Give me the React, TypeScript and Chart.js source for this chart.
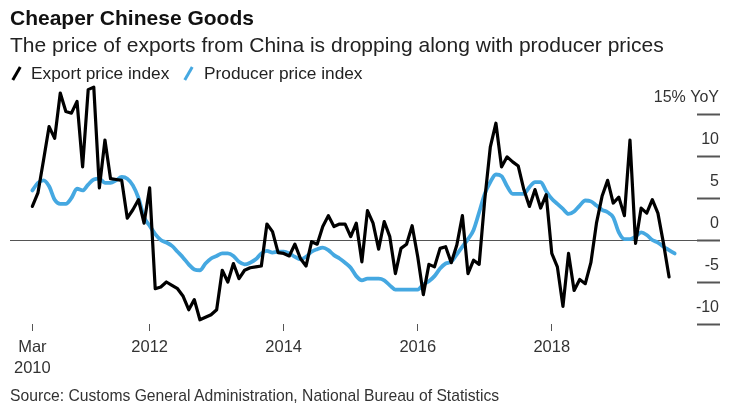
import React, { useEffect, useRef } from "react";
import { Chart, registerables } from "chart.js";

Chart.register(...registerables);

const FONT = "'Liberation Sans', Arial, sans-serif";
const BLUE = "#45a8e1";

const TITLE = "Cheaper Chinese Goods";
const SUBTITLE = "The price of exports from China is dropping along with producer prices";
const SOURCE = "Source: Customs General Administration, National Bureau of Statistics";
const SERIES_NAMES = ["Export price index", "Producer price index"];

// x = months since Jan 2010 (month-end position); first observation is Mar 2010
const FIRST_MONTH = 3;

// Export price index, % YoY, Mar 2010 .. Sep 2019
const exportPriceIndex = [
  4.0, 5.6, 9.5, 13.5, 12.1, 17.5, 15.3, 15.1, 16.5, 8.7,
  17.9, 18.2, 6.2, 11.9, 7.3, 7.2, 7.1, 2.6, 3.6, 4.8, 2.0, 6.2,
  -5.8, -5.6, -5.0, -5.4, -5.8, -6.7, -8.3, -7.1, -9.5, -9.2, -8.9, -8.3,
  -3.6, -5.0, -2.8, -4.6, -3.6, -3.3, -3.2, -3.1, 1.9, 1.0, -1.5, -1.6,
  -1.9, -0.5, -2.2, -3.1, -0.2, -0.5, 1.6, 2.9, 1.6, 1.9, 1.9, 0.4,
  2.0, -2.6, 3.5, 2.0, -1.1, 2.2, 0.4, -4.0, -1.0, -0.5, 1.7, -2.0,
  -6.5, -2.9, -3.2, -1.0, -0.8, -2.7, -0.6, 2.9, -4.0, -2.4, -2.9, 4.8,
  11.1, 13.9, 8.7, 9.9, 9.3, 8.8, 6.0, 4.0, 6.0, 3.8, 5.4, -1.6,
  -3.2, -7.9, -1.6, -6.0, -4.7, -5.2, -2.7, 2.0, 5.2, 7.1, 4.4, 5.1,
  2.9, 11.9, -0.4, 3.8, 3.2, 4.8, 3.2, -0.4, -4.4,
];

// Producer price index, % YoY, Mar 2010 .. Oct 2019
const producerPriceIndex = [
  5.9, 6.8, 7.1, 6.4, 4.8, 4.3, 4.3, 5.0, 6.1, 5.9,
  6.6, 7.2, 7.3, 6.8, 6.8, 7.1, 7.5, 7.3, 6.5, 5.0, 2.7, 1.7,
  0.7, 0.0, -0.3, -0.7, -1.4, -2.1, -2.9, -3.5, -3.6, -2.8, -2.2, -1.9,
  -1.6, -1.6, -1.9, -2.6, -2.9, -2.7, -2.3, -1.6, -1.3, -1.5, -1.4, -1.4,
  -1.6, -2.0, -2.3, -2.0, -1.4, -1.1, -0.9, -1.2, -1.8, -2.2, -2.7, -3.3,
  -4.3, -4.8, -4.6, -4.6, -4.6, -4.8, -5.4, -5.9, -5.9, -5.9, -5.9, -5.9,
  -5.3, -4.9, -4.3, -3.4, -2.8, -2.6, -1.7, -0.8, 0.1, 1.2, 3.3, 5.5,
  6.9, 7.8, 7.6, 6.4, 5.5, 5.5, 5.5, 6.3, 6.9, 6.9, 5.8, 4.9,
  4.3, 3.7, 3.1, 3.4, 4.1, 4.7, 4.6, 4.1, 3.6, 3.3, 2.7, 0.9,
  0.1, 0.1, 0.4, 0.9, 0.6, 0.0, -0.3, -0.8, -1.2, -1.6,
];

const yTicks = [-10, -5, 0, 5, 10, 15];
const yTickLabels = ["-10", "-5", "0", "5", "10", "15% YoY"];
const xTicks = [3, 24, 48, 72, 96];
const xTickLabels: (string | string[])[] = [["Mar", "2010"], "2012", "2014", "2016", "2018"];

const Y_MIN = -10;
const Y_MAX = 18.5;
const X_MIN = -1;
const X_MAX = 122;

const yLabel = (v: number) => {
  const i = yTicks.indexOf(v);
  return i >= 0 ? yTickLabels[i] : "";
};

export default function App() {
  const ref = useRef<HTMLCanvasElement | null>(null);

  useEffect(() => {
    const canvas = ref.current;
    if (!canvas) return;

    const Y_TICK_LEN = 23;
    const LABEL_SHIFT = 22; // label right edge relative to the axis' left edge

    const chart = new Chart(canvas, {
      type: "line",
      data: {
        datasets: [
          {
            label: SERIES_NAMES[0],
            data: exportPriceIndex.map((v, i) => ({ x: FIRST_MONTH + i, y: v })),
            borderColor: "#000000",
            borderWidth: 3.2,
            pointRadius: 0,
            tension: 0,
            borderJoinStyle: "round",
            borderCapStyle: "round",
          },
          {
            label: SERIES_NAMES[1],
            data: producerPriceIndex.map((v, i) => ({ x: FIRST_MONTH + i, y: v })),
            borderColor: BLUE,
            borderWidth: 3.8,
            pointRadius: 0,
            cubicInterpolationMode: "monotone",
            borderJoinStyle: "round",
            borderCapStyle: "round",
          },
        ],
      },
      options: {
        responsive: false,
        animation: false,
        devicePixelRatio: 1,
        layout: { padding: { left: 10, right: 22, top: 84.6, bottom: 0 } },
        plugins: {
          legend: { display: false },
          tooltip: { enabled: false },
          title: { display: false },
        },
        scales: {
          x: {
            type: "linear",
            min: X_MIN,
            max: X_MAX,
            border: { display: false },
            grid: {
              drawOnChartArea: false,
              drawTicks: true,
              tickLength: 7,
              tickColor: "#555",
              tickWidth: 1,
            },
            ticks: {
              autoSkip: false,
              maxRotation: 0,
              minRotation: 0,
              padding: 5.5,
              color: "#333",
              font: { family: FONT, size: 16.5, lineHeight: 21 / 16.5 },
              callback: (value: any) => {
                const i = xTicks.indexOf(Number(value));
                return i >= 0 ? xTickLabels[i] : "";
              },
            },
            afterBuildTicks: (s: any) => {
              s.ticks = xTicks.map((v) => ({ value: v }));
            },
            afterFit: (s: any) => {
              s.height = 83;
              s.paddingLeft = 0;
              s.paddingRight = 0;
            },
          },
          y: {
            type: "linear",
            position: "right",
            min: Y_MIN,
            max: Y_MAX,
            border: { display: false },
            grid: {
              drawOnChartArea: true,
              drawTicks: true,
              tickLength: Y_TICK_LEN,
              color: (ctx: any) =>
                ctx.tick && ctx.tick.value === 0 ? "#555" : "rgba(0,0,0,0)",
              lineWidth: 1,
              tickColor: "#555",
              tickWidth: 2,
            },
            ticks: {
              mirror: true,
              crossAlign: "near",
              padding: LABEL_SHIFT,
              labelOffset: -16,
              color: "#333",
              font: { family: FONT, size: 16 },
              callback: (value: any) => yLabel(Number(value)),
            },
            afterBuildTicks: (s: any) => {
              s.ticks = yTicks.map((v) => ({ value: v }));
            },
            afterFit: (s: any) => {
              s.width = Y_TICK_LEN;
              s.paddingTop = 0;
              s.paddingBottom = 0;
            },
          },
        },
      },
    } as any);

    // make sure mirrored labels end at axis.left + LABEL_SHIFT whatever the sign convention
    const ys: any = chart.scales.y;
    if (ys && typeof ys._getYAxisLabelAlignment === "function") {
      const res = ys._getYAxisLabelAlignment(Y_TICK_LEN);
      const target = ys.left + LABEL_SHIFT;
      if (res && Math.abs(res.x - target) > 1) {
        (chart.options as any).scales.y.ticks.padding = -LABEL_SHIFT;
        chart.update();
      }
    }

    return () => chart.destroy();
  }, []);

  const slash = (left: number, color: string) => (
    <div
      style={{
        position: "absolute",
        left,
        top: 66,
        width: 3,
        height: 15,
        background: color,
        transform: "rotate(30deg)",
      }}
    />
  );

  return (
    <div
      style={{
        position: "absolute",
        left: 0,
        top: 0,
        width: 742,
        height: 407,
        background: "#ffffff",
        fontFamily: FONT,
        overflow: "hidden",
      }}
    >
      <canvas
        ref={ref}
        width={742}
        height={407}
        style={{ position: "absolute", left: 0, top: 0, width: 742, height: 407 }}
      />
      <div
        style={{
          position: "absolute",
          left: 10,
          top: 7,
          fontSize: 21,
          lineHeight: "21px",
          fontWeight: 700,
          color: "#111",
          whiteSpace: "nowrap",
        }}
      >
        {TITLE}
      </div>
      <div
        style={{
          position: "absolute",
          left: 10,
          top: 34,
          fontSize: 21,
          lineHeight: "21px",
          color: "#222",
          whiteSpace: "nowrap",
        }}
      >
        {SUBTITLE}
      </div>
      {slash(15, "#000")}
      <div
        style={{
          position: "absolute",
          left: 31,
          top: 65,
          fontSize: 17.3,
          lineHeight: "17.3px",
          color: "#222",
          whiteSpace: "nowrap",
        }}
      >
        {SERIES_NAMES[0]}
      </div>
      {slash(187, BLUE)}
      <div
        style={{
          position: "absolute",
          left: 204,
          top: 65,
          fontSize: 17.3,
          lineHeight: "17.3px",
          color: "#222",
          whiteSpace: "nowrap",
        }}
      >
        {SERIES_NAMES[1]}
      </div>
      <div
        style={{
          position: "absolute",
          left: 10,
          top: 388,
          fontSize: 15.7,
          lineHeight: "15.7px",
          color: "#333",
          whiteSpace: "nowrap",
        }}
      >
        {SOURCE}
      </div>
    </div>
  );
}
